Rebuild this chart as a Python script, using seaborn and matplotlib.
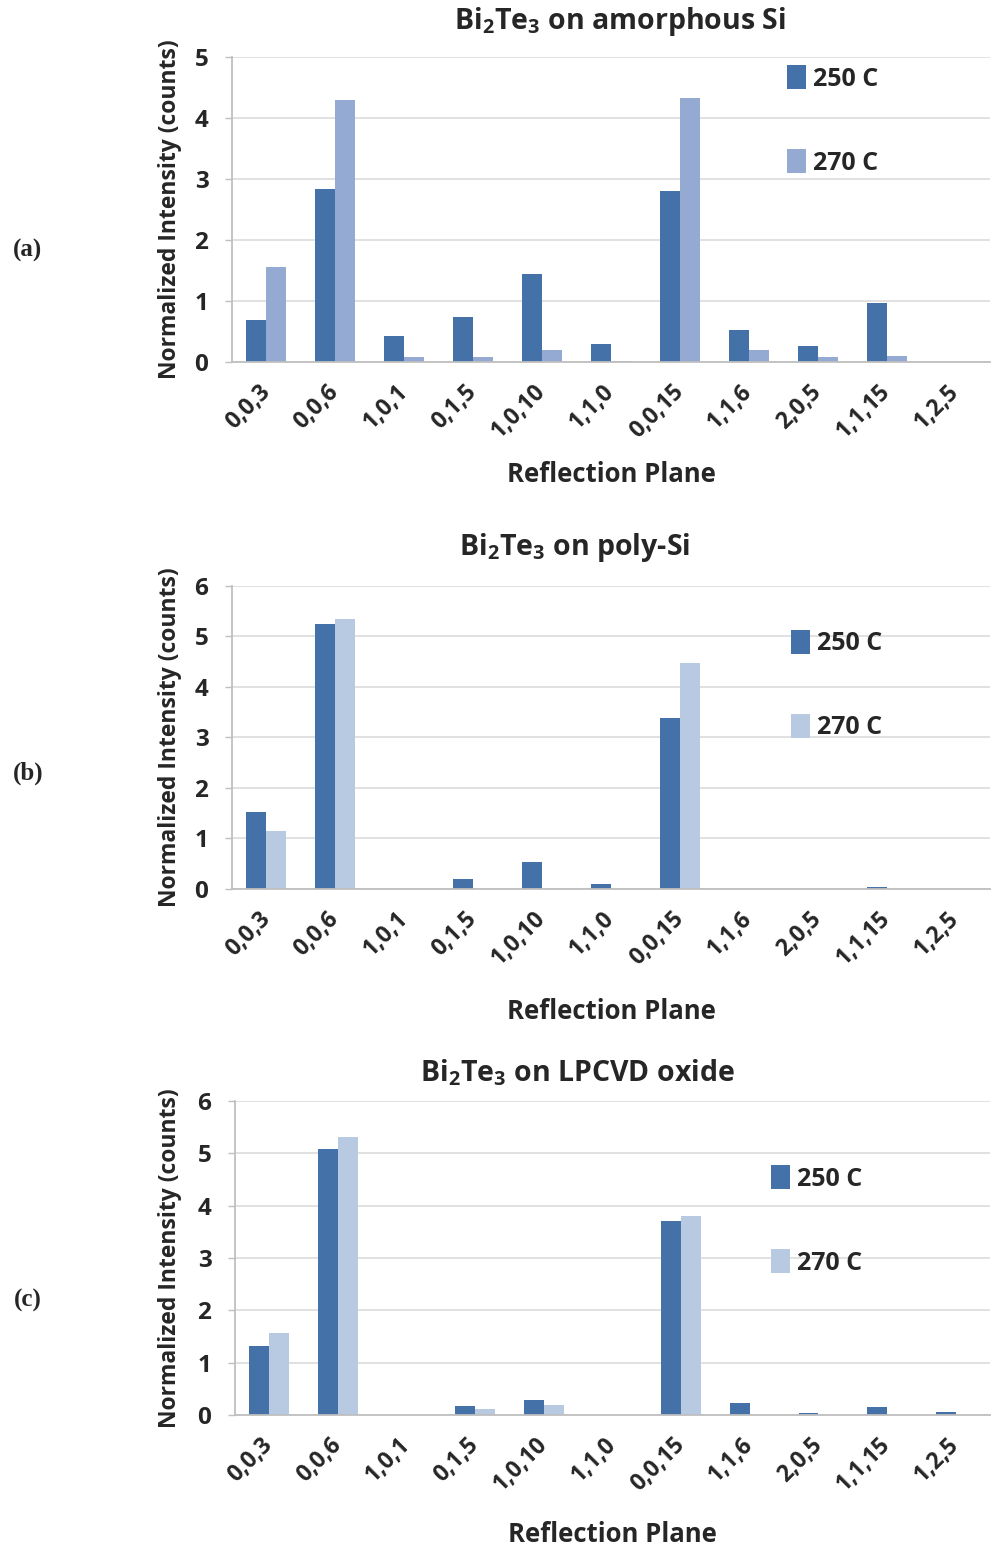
import matplotlib
matplotlib.use("Agg")
import matplotlib.pyplot as plt
import seaborn as sns
import pandas as pd

planes = ["0,0,3", "0,0,6", "1,0,1", "0,1,5", "1,0,10", "1,1,0",
          "0,0,15", "1,1,6", "2,0,5", "1,1,15", "1,2,5"]
temps = ["250 C", "270 C"]

a_250 = [0.69, 2.83, 0.43, 0.74, 1.44, 0.29, 2.81, 0.52, 0.27, 0.96, 0.0]
a_270 = [1.56, 4.29, 0.08, 0.08, 0.19, 0.02, 4.33, 0.19, 0.08, 0.10, 0.0]
b_250 = [1.52, 5.24, 0.0, 0.20, 0.53, 0.09, 3.39, 0.0, 0.0, 0.03, 0.0]
b_270 = [1.15, 5.34, 0.0, 0.0, 0.0, 0.0, 4.47, 0.0, 0.0, 0.0, 0.0]
c_250 = [1.32, 5.08, 0.0, 0.17, 0.28, 0.0, 3.71, 0.23, 0.03, 0.16, 0.05]
c_270 = [1.56, 5.32, 0.0, 0.12, 0.19, 0.0, 3.80, 0.0, 0.0, 0.0, 0.0]

titles = [r"Bi$_\mathregular{2}$Te$_\mathregular{3}$ on amorphous Si",
          r"Bi$_\mathregular{2}$Te$_\mathregular{3}$ on poly-Si",
          r"Bi$_\mathregular{2}$Te$_\mathregular{3}$ on LPCVD oxide"]
panel_labels = ["(a)", "(b)", "(c)"]
ymax = [5, 6, 6]

sns.set_theme(style="white")
FONT = ["Open Sans", "DejaVu Sans"]
plt.rcParams["font.family"] = FONT
plt.rcParams["font.weight"] = "bold"
plt.rcParams["mathtext.fontset"] = "custom"
plt.rcParams["mathtext.rm"] = "Open Sans:bold"
plt.rcParams["mathtext.bf"] = "Open Sans:bold"

W, H = 992, 1551
fig = plt.figure(figsize=(W / 100, H / 100), dpi=100)

dark = "#4472A8"
light_a = "#94AAD2"
light_bc = "#B8C9E2"

# axes geometry in pixels: left, top, right, bottom
geoms = [(232, 57, 990, 362), (232, 586, 990, 889), (235, 1101, 990, 1415)]
title_pos = [(620, 21), (575, 548), (577, 1073)]
xlab_y = [475, 1012, 1535]
legend_pos = [(777, 55), (781, 620), (761, 1155)]
label_y = [250, 773, 1300]
series = [(a_250, a_270, light_a), (b_250, b_270, light_bc), (c_250, c_270, light_bc)]

for i, (g, (s250, s270, lcol)) in enumerate(zip(geoms, series)):
    l, t, r, b = g
    ax = fig.add_axes([l / W, 1 - b / H, (r - l) / W, (b - t) / H])
    df = pd.DataFrame({
        "plane": planes * 2,
        "value": s250 + s270,
        "temp": [temps[0]] * len(planes) + [temps[1]] * len(planes),
    })
    sns.barplot(data=df, x="plane", y="value", hue="temp", order=planes,
                hue_order=temps, palette=[dark, lcol], width=0.58,
                saturation=1, ax=ax, legend=True, errorbar=None,
                linewidth=0, edgecolor="none")
    ax.set_xlim(-0.5, len(planes) - 0.5)
    ax.set_ylim(0, ymax[i])
    ax.set_yticks(range(0, ymax[i] + 1))
    ax.yaxis.grid(True, color="#D9D9D9", lw=1.1)
    ax.set_axisbelow(True)
    for sp in ["top", "right"]:
        ax.spines[sp].set_visible(False)
    for sp in ["left", "bottom"]:
        ax.spines[sp].set_color("#BFBFBF")
        ax.spines[sp].set_linewidth(1.3)
    ax.tick_params(axis="y", which="both", left=True, length=5, width=1,
                   color="#BFBFBF", pad=12, labelsize=17.5)
    ax.tick_params(axis="x", bottom=False, pad=13, labelsize=16.5)
    for lab in ax.get_xticklabels():
        lab.set_rotation(45)
        lab.set_ha("right")
        lab.set_va("center")
        lab.set_rotation_mode("anchor")
        lab.set_fontweight("bold")
    for lab in ax.get_yticklabels():
        lab.set_fontweight("bold")

    ax.set_ylabel("Normalized Intensity (counts)", fontsize=16.5, fontweight="bold")
    ax.yaxis.set_label_coords((170 - l) / (r - l), 0.5)
    ax.yaxis.label.set_va("center")
    ax.set_xlabel("Reflection Plane", fontsize=18.5, fontweight="bold")
    ax.xaxis.set_label_coords(0.5, -(xlab_y[i] - b) / (b - t))
    ax.xaxis.label.set_va("center")

    handles, labels = ax.get_legend_handles_labels()
    ax.legend(handles, labels, loc="upper left",
              bbox_to_anchor=(legend_pos[i][0] / W, 1 - legend_pos[i][1] / H),
              bbox_transform=fig.transFigure, frameon=False,
              prop={"family": FONT, "weight": "bold", "size": 18},
              handlelength=0.75, handleheight=1.1, handletextpad=0.3,
              labelspacing=2.3, borderaxespad=0)

    tx, ty = title_pos[i]
    fig.text(tx / W, 1 - ty / H, titles[i], ha="center", va="center",
             fontsize=20.5, fontweight="bold")
    fig.text(28 / W, 1 - label_y[i] / H, panel_labels[i], ha="center", va="center",
             fontsize=18, fontweight="bold", family="Liberation Serif")

fig.savefig("out.png", dpi=100)
